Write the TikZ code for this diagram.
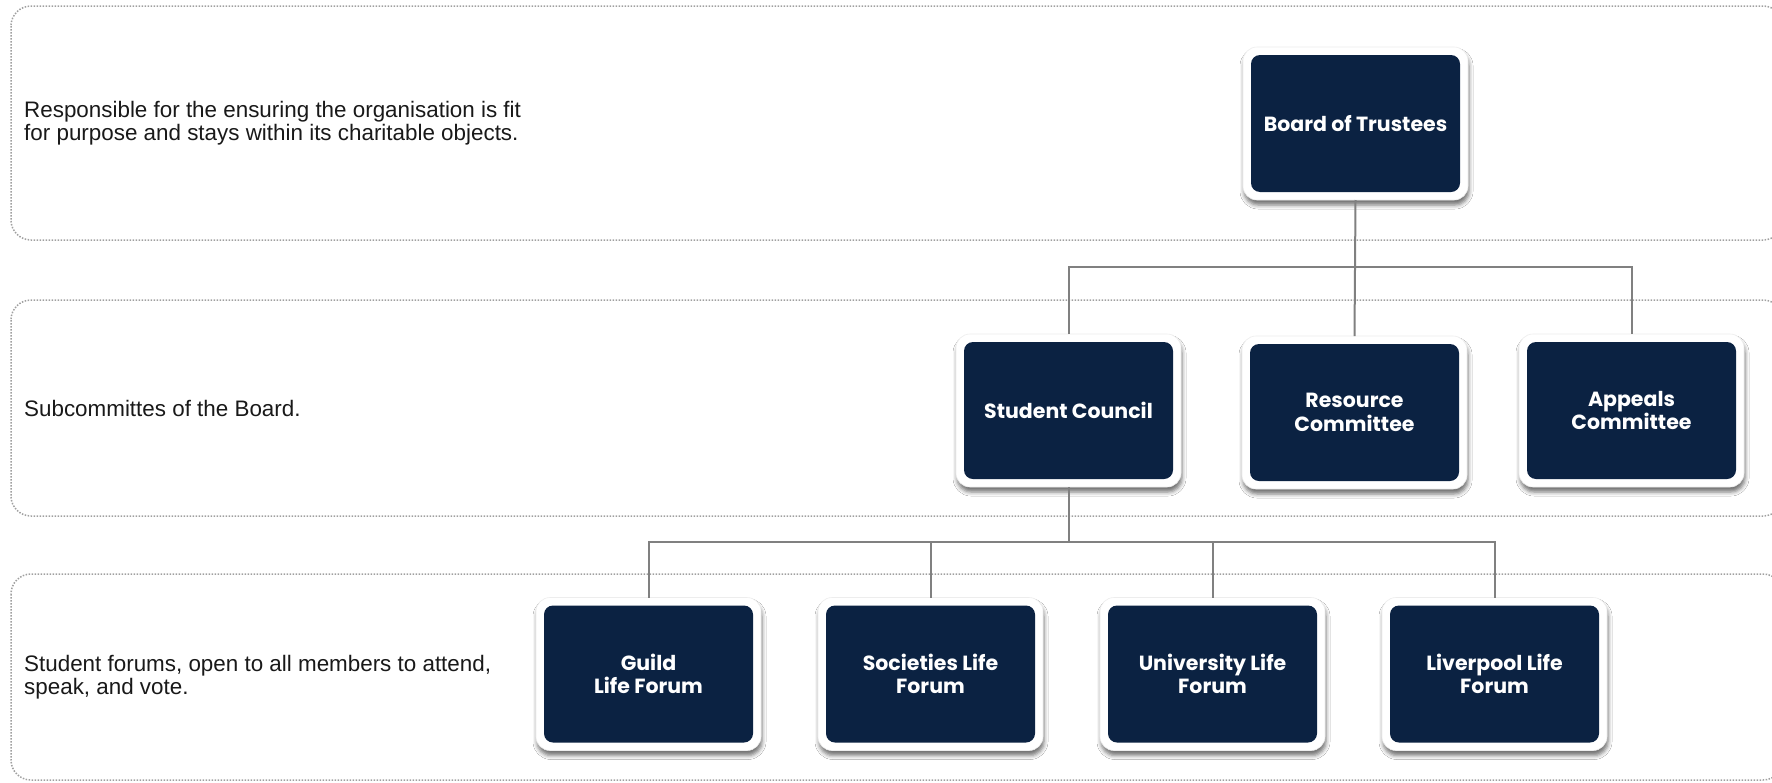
\documentclass[tikz,border=0pt]{standalone}
\usepackage{fontspec}
\setmainfont{Liberation Sans}
\newfontfamily\boxfont{Poppins}
\usetikzlibrary{shadows.blur}
\definecolor{navy}{HTML}{0B2242}
\definecolor{conn}{HTML}{808080}
\definecolor{dotgray}{HTML}{A0A0A0}
\begin{document}
\begin{tikzpicture}[x=1pt,y=-1pt,
  panel/.style={draw=dotgray, line width=1.5pt, dash pattern=on 1.5pt off 1.5pt, rounded corners=20pt},
  desc/.style={anchor=west, align=left, inner sep=0pt, text=black!90, font=\fontsize{22.4}{23.5}\selectfont},
  orgbox/.style={rectangle, fill=white, draw=black!7, line width=0.6pt, rounded corners=14pt,
    minimum width=225pt, minimum height=153pt, inner sep=0pt, outer sep=0pt,
    text=white, align=center, font=\boxfont\bfseries\fontsize{20.5}{23.3}\selectfont,
    blur shadow={shadow xshift=1pt, shadow yshift=-5pt, shadow blur radius=4pt, shadow opacity=55},
    path picture={\fill[navy, rounded corners=9pt]
      ([shift={(8pt,8pt)}]path picture bounding box.south west) rectangle
      ([shift={(-8pt,-8pt)}]path picture bounding box.north east);}},
  link/.style={draw=conn, line width=2pt}
]
\useasboundingbox (0,0) rectangle (1772,782);
\clip (0,0) rectangle (1772,782);
\fill[white] (0,0) rectangle (1772,782);

% panels
\draw[panel] (11,6) rectangle (1783,240);
\draw[panel] (11,300) rectangle (1783,516);
\draw[panel] (11,574) rectangle (1783,780);

% descriptions
\node[desc] (d1) at (24,123) {Responsible for the ensuring the organisation is fit\\for purpose and stays within its charitable objects.};
\node[desc] (d2) at (24,408) {Subcommittes of the Board.};
\node[desc] (d3) at (24,677) {Student forums, open to all members to attend,\\speak, and vote.};

% boxes
\node[orgbox] (board) at (1355.5,123.5) {Board of Trustees};
\node[orgbox] (council) at (1068.5,410.5) {Student Council};
\node[orgbox] (resource) at (1354.5,412.5) {Resource\\Committee};
\node[orgbox] (appeals) at (1631.5,410.5) {Appeals\\Committee};
\node[orgbox] (guild) at (648.5,674) {Guild\\Life Forum};
\node[orgbox] (societies) at (930.5,674) {Societies Life\\Forum};
\node[orgbox] (university) at (1212.5,674) {University Life\\Forum};
\node[orgbox] (liverpool) at (1494.5,674) {Liverpool Life\\Forum};

% connectors
\coordinate (j1) at (1355.5,267);
\coordinate (j2) at (1068.5,542);
\draw[link] (board.south) -- (resource.north);
\draw[link] (council.north) |- (j1) -| (appeals.north);
\draw[link] (council.south) -- (j2);
\draw[link] (guild.north) |- (j2) -| (liverpool.north);
\draw[link] (societies.north) -- (societies.north |- j2);
\draw[link] (university.north) -- (university.north |- j2);
\end{tikzpicture}
\end{document}
